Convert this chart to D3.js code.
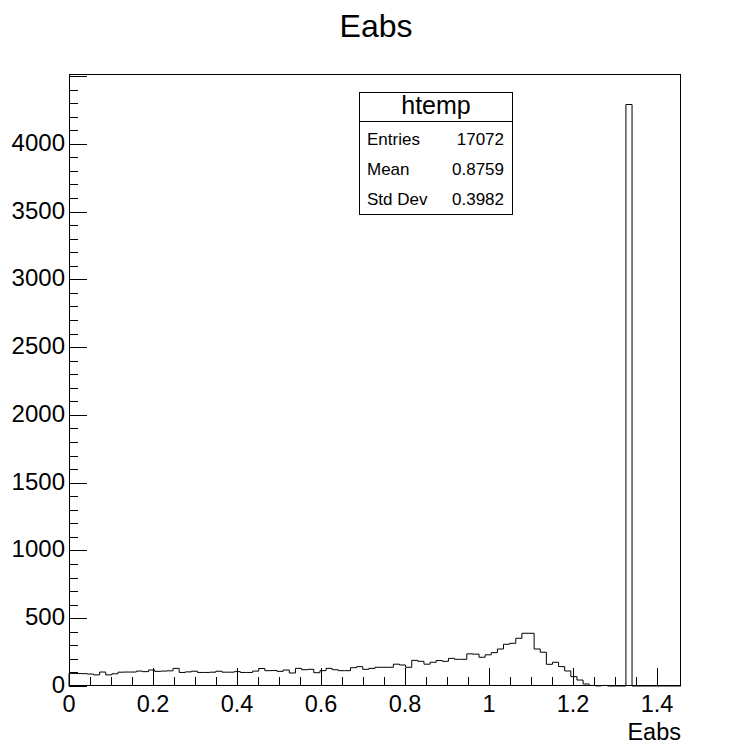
<!DOCTYPE html>
<html>
<head>
<meta charset="utf-8">
<script src="https://cdn.jsdelivr.net/npm/d3@7"></script>
<style>
  html, body { margin: 0; padding: 0; background: #fff; }
  svg { display: block; }
  text { font-family: "Liberation Sans", Arial, Helvetica, sans-serif; fill: #000; }
</style>
</head>
<body>
<svg id="chart" width="746" height="752"></svg>
<script>
// ---- data ----
const histName = "htemp";
const title = "Eabs";
const xTitle = "Eabs";
const xMin = 0, xMax = 1.457, nBins = 100;
const yMax = 4515;
const counts = [
  93, 92, 91, 88, 82, 103, 82, 90, 102, 103,
  103, 110, 106, 118, 108, 110, 112, 130, 100, 104,
  109, 100, 100, 102, 109, 102, 102, 106, 100, 100,
  110, 129, 113, 114, 108, 118, 96, 130, 120, 123,
  98, 113, 130, 120, 113, 113, 135, 143, 123, 130,
  138, 138, 138, 161, 155, 138, 189, 182, 161, 175,
  188, 182, 204, 197, 197, 237, 235, 212, 230, 246,
  273, 308, 315, 352, 389, 389, 273, 249, 160, 175,
  143, 111, 69, 44, 15, 4, 1, 4, 0, 0,
  0, 4290, 0, 0, 0, 0, 0, 0, 0, 0
];
const xMajorTicks = [0, 0.2, 0.4, 0.6, 0.8, 1, 1.2, 1.4];
const xTickLabels = ["0", "0.2", "0.4", "0.6", "0.8", "1", "1.2", "1.4"];
const yMajorTicks = [0, 500, 1000, 1500, 2000, 2500, 3000, 3500, 4000];
const yTickLabels = ["0", "500", "1000", "1500", "2000", "2500", "3000", "3500", "4000"];
const statLabels = ["Entries", "Mean", "Std Dev"];
const statValues = ["17072", "0.8759", "0.3982"];

// ---- layout ----
const W = 746, H = 752;
const frame = { left: 69, right: 681, top: 74, bottom: 686 };
const svg = d3.select("#chart");

const x = d3.scaleLinear().domain([xMin, xMax]).range([frame.left, frame.right]);
const y = d3.scaleLinear().domain([0, yMax]).range([frame.bottom, frame.top]);

svg.append("rect").attr("width", W).attr("height", H).attr("fill", "#fff");

// histogram outline
const bw = (xMax - xMin) / nBins;
let d = `M${x(xMin)},${y(0)}`;
counts.forEach((c, i) => {
  const x0 = x(xMin + i * bw), x1 = x(xMin + (i + 1) * bw);
  d += `L${x0},${y(c)}L${x1},${y(c)}`;
});
d += `L${x(xMax)},${y(0)}`;
svg.append("path").attr("d", d).attr("fill", "none").attr("stroke", "#000").attr("stroke-width", 1);

// frame
svg.append("rect")
  .attr("x", frame.left + 0.5).attr("y", frame.top + 0.5)
  .attr("width", frame.right - frame.left - 1).attr("height", frame.bottom - frame.top - 1)
  .attr("fill", "none").attr("stroke", "#000").attr("stroke-width", 1);

// x axis ticks
const xMinor = d3.range(0, 29).map(k => k * 0.05).filter(v => v <= xMax + 1e-9);
const gx = svg.append("g");
xMinor.forEach(v => {
  const isMajor = Math.abs(v / 0.2 - Math.round(v / 0.2)) < 1e-6;
  const len = isMajor ? 18 : 9;
  const px = Math.round(x(v)) + 0.5;
  gx.append("line").attr("x1", px).attr("x2", px)
    .attr("y1", frame.bottom).attr("y2", frame.bottom - len)
    .attr("stroke", "#000").attr("stroke-width", 1);
});
xMajorTicks.forEach((v, i) => {
  gx.append("text").attr("x", x(v)).attr("y", 712)
    .attr("text-anchor", "middle").attr("font-size", 23.5).text(xTickLabels[i]);
});

// y axis ticks
const yMinor = d3.range(0, 46).map(k => k * 100).filter(v => v <= yMax);
const gy = svg.append("g");
yMinor.forEach(v => {
  const isMajor = v % 500 === 0;
  const len = isMajor ? 18 : 9;
  const py = Math.round(y(v)) + 0.5;
  gy.append("line").attr("x1", frame.left).attr("x2", frame.left + len)
    .attr("y1", py).attr("y2", py)
    .attr("stroke", "#000").attr("stroke-width", 1);
});
yMajorTicks.forEach((v, i) => {
  gy.append("text").attr("x", 65).attr("y", y(v) + 7)
    .attr("text-anchor", "end").attr("font-size", 24).text(yTickLabels[i]);
});

// titles
svg.append("text").attr("x", 376).attr("y", 37).attr("text-anchor", "middle")
  .attr("font-size", 32).text(title);
svg.append("text").attr("x", frame.right).attr("y", 740).attr("text-anchor", "end")
  .attr("font-size", 23.5).text(xTitle);

// stats box
const box = { x: 359.5, y: 92.5, w: 153, h: 122, sep: 121.5 };
const gs = svg.append("g");
gs.append("rect").attr("x", box.x).attr("y", box.y).attr("width", box.w).attr("height", box.h)
  .attr("fill", "#fff").attr("stroke", "#000").attr("stroke-width", 1);
gs.append("line").attr("x1", box.x).attr("x2", box.x + box.w).attr("y1", box.sep).attr("y2", box.sep)
  .attr("stroke", "#000").attr("stroke-width", 1);
gs.append("text").attr("x", box.x + box.w / 2).attr("y", 114).attr("text-anchor", "middle")
  .attr("font-size", 25).text(histName);
statLabels.forEach((lab, i) => {
  const by = 145 + i * 30;
  gs.append("text").attr("x", 367).attr("y", by).attr("font-size", 17).text(lab);
  gs.append("text").attr("x", 504).attr("y", by).attr("text-anchor", "end").attr("font-size", 17).text(statValues[i]);
});
</script>
</body>
</html>
